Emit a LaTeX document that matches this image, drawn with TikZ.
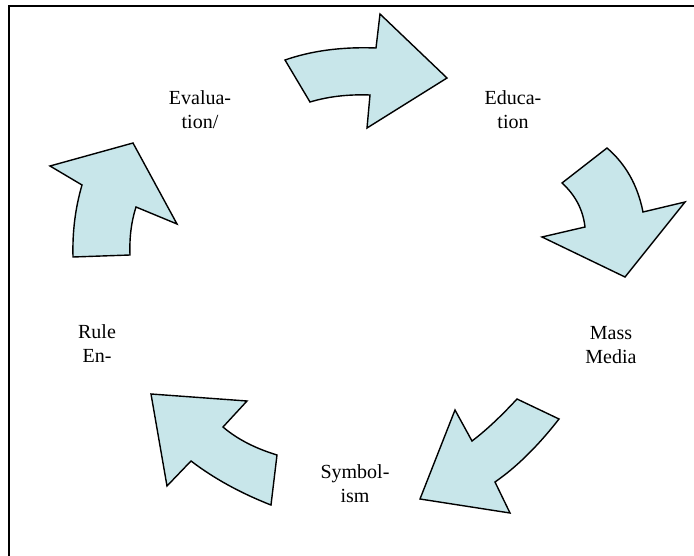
\documentclass[tikz,border=0pt]{standalone}
\usepackage{fontspec}
\setmainfont{Liberation Serif}
\usepackage{xcolor}
\usetikzlibrary{positioning}
\definecolor{arrowfill}{RGB}{200,230,234}

\begin{document}
\begin{tikzpicture}
        [
        x=1pt, y=-1pt,
        cyclearrow/.style = {draw=black, line width=1.4pt, line join=miter, fill=arrowfill},
        steplabel/.style = {align=center, font=\fontsize{20}{24}\selectfont, inner sep=0pt}
        ]
    \clip (0,0) rectangle (694,556);
    \draw[line width=2pt] (9,6) rectangle (720,580);

    % labels
    \node[steplabel] (eval) at (200,110) {Evalua-\\tion/};
    \node[steplabel] (educ) at (513,110) {Educa-\\tion};
    \node[steplabel] (mass) at (611,345) {Mass\\Media};
    \node[steplabel] (symb) at (355,484) {Symbol-\\ism};
    \node[steplabel] (rule) at (97,344) {Rule\\En-};

    % arrows
    \draw[cyclearrow] (285,60) .. controls (311.7,50.7) and (342,46.7) .. (376,48) -- (380,14) -- (447,78)
        -- (367,128) -- (370,95) .. controls (350,94.3) and (330,96) .. (310,102) -- cycle;
    \draw[cyclearrow] (607,148) .. controls (625.7,164) and (637.7,185.3) .. (643,212) -- (685,202) -- (625,277)
        -- (542,237) -- (585,227) .. controls (583,209.7) and (575.3,195) .. (562,183) -- cycle;
    \draw[cyclearrow] (517,399) -- (559,419) .. controls (537.7,446.3) and (516.3,467.3) .. (495,482) -- (510,513)
        -- (420,499) -- (455,410) -- (472,441) .. controls (485.3,431) and (500.3,417) .. (517,399) -- cycle;
    \draw[cyclearrow] (151,394) -- (247,401) -- (223,427) .. controls (237,439) and (255,448.3) .. (277,455)
        -- (271,505) .. controls (240.3,493) and (213.7,478.3) .. (191,461) -- (167,486) -- cycle;
    \draw[cyclearrow] (133,143) -- (177,224) -- (136,207) .. controls (131.3,221.7) and (129.3,237.7) .. (130,255)
        -- (73,257) .. controls (72.3,231.7) and (75.3,208) .. (82,185) -- (50,166) -- cycle;
\end{tikzpicture}
\end{document}
